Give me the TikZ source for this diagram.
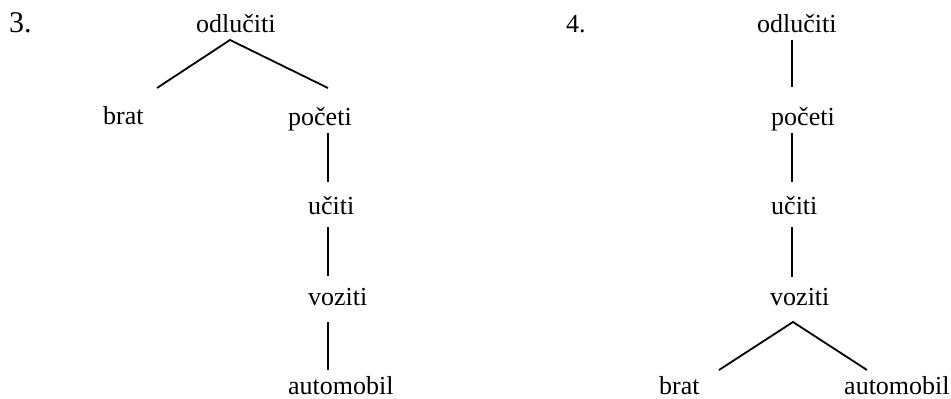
\documentclass[tikz,border=0pt]{standalone}
\usepackage{fontspec}
\setmainfont{Liberation Serif}
\begin{document}
\begin{tikzpicture}[x=1pt,y=1pt,
  word/.style={anchor=base west,inner sep=0pt,font=\fontsize{26}{30}\selectfont},
  bignum/.style={anchor=base west,inner sep=0pt,font=\fontsize{30}{34}\selectfont},
  edge/.style={line width=1.8pt}]
\useasboundingbox (0,0) rectangle (951,399);
% tree 3
\node[bignum] (n3) at (9,366) {3.};
\node[word] (aodl) at (196,366) {odlučiti};
\node[word] (abrat) at (103,274) {brat};
\node[word] (apoc) at (288,273) {početi};
\node[word] (auci) at (308,184) {učiti};
\node[word] (avoz) at (308,93) {voziti};
\node[word] (aaut) at (288,4) {automobil};
\coordinate (a0) at (230,359);
\coordinate (a1) at (157,311);
\coordinate (a2) at (328,311);
\coordinate (a3) at (328,266);
\coordinate (a4) at (328,217);
\coordinate (a5) at (328,172);
\coordinate (a6) at (328,123);
\coordinate (a7) at (328,77);
\coordinate (a8) at (328,29);
\draw[edge] (a1) -- (a0) -- (a2);
\draw[edge] (a3) -- (a4);
\draw[edge] (a5) -- (a6);
\draw[edge] (a7) -- (a8);
% tree 4
\node[word] (n4) at (566,366) {4.};
\node[word] (bodl) at (757,366) {odlučiti};
\node[word] (bpoc) at (771,273) {početi};
\node[word] (buci) at (771,184) {učiti};
\node[word] (bvoz) at (770,93) {voziti};
\node[word] (bbrat) at (659,4) {brat};
\node[word] (baut) at (844,4) {automobil};
\coordinate (b1) at (792,359);
\coordinate (b2) at (792,312);
\coordinate (b3) at (792,266);
\coordinate (b4) at (792,217);
\coordinate (b5) at (792,172);
\coordinate (b6) at (792,122);
\coordinate (b0) at (793,77);
\coordinate (b7) at (719,29);
\coordinate (b8) at (867,29);
\draw[edge] (b1) -- (b2);
\draw[edge] (b3) -- (b4);
\draw[edge] (b5) -- (b6);
\draw[edge] (b7) -- (b0) -- (b8);
\end{tikzpicture}
\end{document}
